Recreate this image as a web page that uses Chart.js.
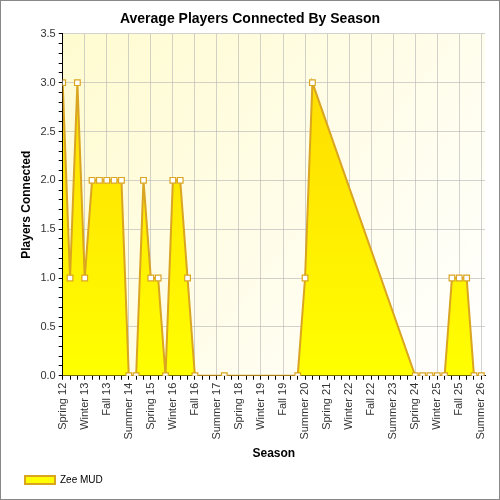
<!DOCTYPE html>
<html>
<head>
<script src="https://cdn.jsdelivr.net/npm/chart.js@4"></script>
<style>
body { margin: 0; background: #fff; }
#wrap { width: 498px; height: 498px; border: 1px solid #888; }
</style>
</head>
<body>
<div id="wrap"><canvas id="c" width="498" height="498"></canvas></div>
<script>
// season index (0 = Spring 12, one step per season)
var seasons = [0, 1, 2, 3, 4, 5, 6, 7, 8, 9, 10, 11, 12, 13, 14, 15, 16, 17, 18, 22, 32, 33, 34, 48, 49, 50, 51, 52, 53, 54, 55, 56, 57];
var players = [3, 1, 3, 1, 2, 2, 2, 2, 2, 0, 0, 2, 1, 1, 0, 2, 2, 1, 0, 0, 0, 1, 3, 0, 0, 0, 0, 0, 1, 1, 1, 0, 0];
var tickLabels = ['Spring 12', 'Winter 13', 'Fall 13', 'Summer 14', 'Spring 15', 'Winter 16', 'Fall 16',
    'Summer 17', 'Spring 18', 'Winter 19', 'Fall 19', 'Summer 20', 'Spring 21', 'Winter 22', 'Fall 22',
    'Summer 23', 'Spring 24', 'Winter 25', 'Fall 25', 'Summer 26'];

var points = seasons.map(function (s, i) { return { x: s, y: players[i] }; });

var plotBg = {
    id: 'plotBg',
    beforeDraw: function (chart) {
        var a = chart.chartArea, c = chart.ctx;
        var g = c.createLinearGradient(a.left, a.top, a.right, a.bottom);
        g.addColorStop(0, '#fffbd0');
        g.addColorStop(1, '#ffffff');
        c.save();
        c.fillStyle = g;
        c.fillRect(a.left, a.top, a.right - a.left, a.bottom - a.top);
        c.restore();
    }
};

var ctx = document.getElementById('c').getContext('2d');
new Chart(ctx, {
    type: 'line',
    data: {
        datasets: [{
            label: 'Zee MUD',
            data: points,
            fill: 'origin',
            borderColor: '#daa520',
            borderWidth: 2,
            tension: 0,
            pointStyle: 'rect',
            pointRadius: 4,
            pointBackgroundColor: '#ffffff',
            pointBorderColor: '#daa520',
            pointBorderWidth: 1.2,
            backgroundColor: function (context) {
                var a = context.chart.chartArea;
                if (!a) return '#ffe000';
                var g = context.chart.ctx.createLinearGradient(0, a.top, 0, a.bottom);
                g.addColorStop(0, '#ffd700');
                g.addColorStop(1, '#ffff00');
                return g;
            }
        }]
    },
    options: {
        responsive: false,
        animation: false,
        layout: { padding: { left: 14, right: 14, top: 6, bottom: 4 } },
        scales: {
            x: {
                type: 'linear',
                min: 0,
                max: 57.5,
                afterBuildTicks: function (axis) {
                    var t = [];
                    for (var i = 0; i <= 57; i++) t.push({ value: i });
                    axis.ticks = t;
                },
                ticks: {
                    autoSkip: false,
                    maxRotation: 90,
                    minRotation: 90,
                    color: '#333',
                    font: { family: 'Liberation Sans', size: 11 },
                    callback: function (v) { return v % 3 === 0 ? tickLabels[v / 3] : ''; }
                },
                grid: {
                    color: function (c) { return c.tick && c.tick.value % 3 === 0 ? 'rgba(180,180,180,0.6)' : 'rgba(0,0,0,0)'; },
                    tickColor: '#000',
                    tickLength: 4
                },
                border: { color: '#000' },
                title: { display: true, text: 'Season', color: '#000', font: { family: 'Liberation Sans', size: 12, weight: 'bold' } }
            },
            y: {
                min: 0,
                max: 3.5,
                afterBuildTicks: function (axis) {
                    var t = [];
                    for (var i = 0; i <= 35; i++) t.push({ value: i / 10 });
                    axis.ticks = t;
                },
                ticks: {
                    autoSkip: false,
                    color: '#333',
                    font: { family: 'Liberation Sans', size: 11 },
                    callback: function (v) { return Math.round(v * 10) % 5 === 0 ? v.toFixed(1) : ''; }
                },
                grid: {
                    color: function (c) { return c.tick && Math.round(c.tick.value * 10) % 5 === 0 ? 'rgba(180,180,180,0.6)' : 'rgba(0,0,0,0)'; },
                    tickColor: '#000',
                    tickLength: 4
                },
                border: { color: '#000' },
                title: { display: true, text: 'Players Connected', color: '#000', font: { family: 'Liberation Sans', size: 12, weight: 'bold' } }
            }
        },
        plugins: {
            title: {
                display: true,
                text: 'Average Players Connected By Season',
                color: '#000',
                font: { family: 'Liberation Sans', size: 14, weight: 'bold' },
                padding: { top: 4, bottom: 6 }
            },
            legend: {
                position: 'bottom',
                align: 'start',
                labels: {
                    color: '#000',
                    font: { family: 'Liberation Sans', size: 10 },
                    boxWidth: 30,
                    boxHeight: 8
                }
            },
            tooltip: { enabled: false }
        }
    },
    plugins: [plotBg]
});
</script>
</body>
</html>
